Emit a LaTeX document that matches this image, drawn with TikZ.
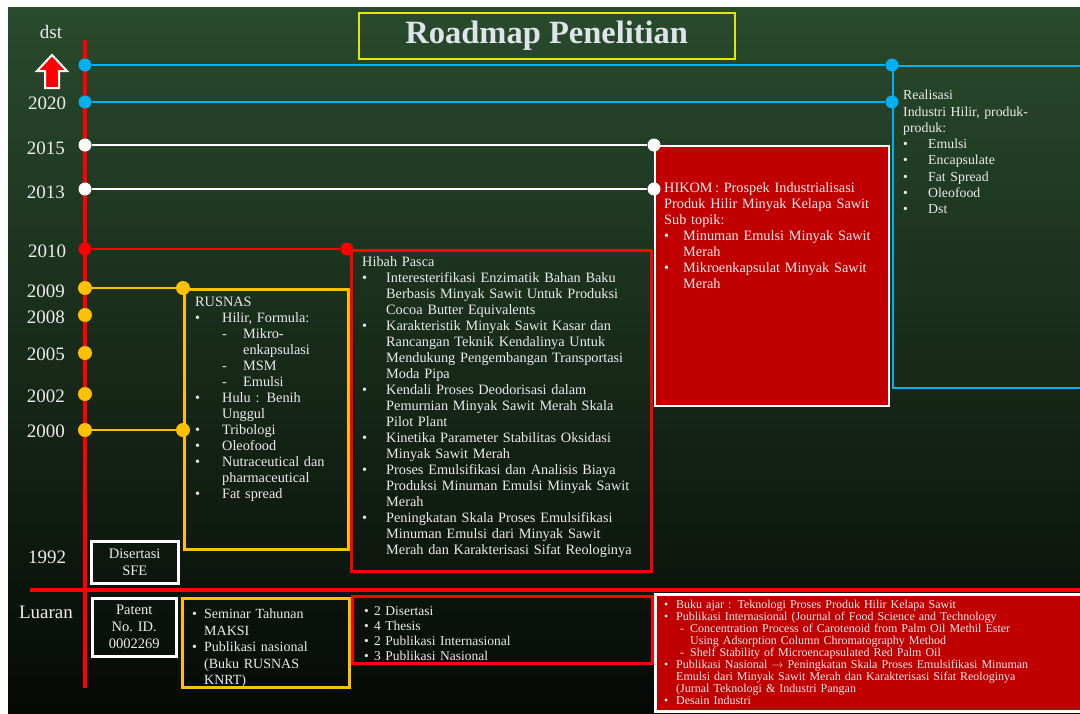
\documentclass[tikz,border=0pt]{standalone}
\usepackage{fontspec}
\setmainfont{Liberation Serif}
\usepackage{tikz}
\usetikzlibrary{positioning}
\definecolor{bgtop}{RGB}{41,75,45}
\definecolor{bgmid}{RGB}{30,56,33}
\definecolor{bgbot}{RGB}{6,9,6}
\definecolor{axisred}{RGB}{255,0,0}
\definecolor{boxred}{RGB}{192,0,0}
\definecolor{gold}{RGB}{255,192,0}
\definecolor{sky}{RGB}{0,176,240}
\definecolor{titleyel}{RGB}{230,230,0}
\definecolor{txt}{RGB}{236,236,236}
\definecolor{titletxt}{RGB}{222,228,234}
% bullet and dash lines with hanging indent
\newcommand{\bul}[2]{\par\hangindent=#1\hangafter=1\noindent\makebox[#1][l]{\textbullet}#2\par}
\newcommand{\dsh}[3]{\par\hangindent=#2\hangafter=1\noindent\hspace*{#1}\makebox[\dimexpr#2-#1\relax][l]{-}#3\par}

\begin{document}
\begin{tikzpicture}
[x=1pt, y=-1pt,
yeardot/.style={circle, inner sep=0pt, minimum size=13pt},
bluedot/.style={yeardot, fill=sky},
whitedot/.style={yeardot, fill=white},
reddot/.style={yeardot, fill=axisred},
golddot/.style={yeardot, fill=gold, minimum size=14pt},
link/.style={line width=2pt},
panel/.style={rectangle, line width=2.5pt, inner sep=0pt, anchor=north west},
boxtext/.style={anchor=north west, inner sep=0pt, align=left, text=txt, font=\fontsize{14.3}{16}\selectfont},
centertext/.style={align=center, text=txt, font=\fontsize{14.5}{17}\selectfont},
year/.style={text=txt, font=\fontsize{19}{20}\selectfont},
]
    \useasboundingbox (0,0) rectangle (1080,713);
    \fill[white] (0,0) rectangle (1080,713);
    \fill[top color=bgtop, middle color=bgmid, bottom color=bgbot] (8,7) rectangle (1080,713);

    \node[draw=titleyel, line width=1.5pt, anchor=north west, minimum width=376pt, minimum height=46pt, text=titletxt, font=\fontsize{32.5}{34}\selectfont\bfseries] (title) at (358,12) {Roadmap Penelitian};

    % time axis and output line
    \draw[axisred, line width=4pt] (85,40) -- (85,688);
    \draw[axisred, line width=4pt] (30,590) -- (1080,590);

    % years
    \node[year] (ydst) at (51,32) {dst};
    \draw[white, line width=2pt, fill=axisred] (52,55) -- (67,71) -- (59,71) -- (59,88) -- (45,88) -- (45,71) -- (37,71) -- cycle;
    \node[year] (y2020) at (47,103) {2020};
    \node[year] (y2015) at (46,148) {2015};
    \node[year] (y2013) at (46,192) {2013};
    \node[year] (y2010) at (47,251) {2010};
    \node[year] (y2009) at (46,291) {2009};
    \node[year] (y2008) at (46,317) {2008};
    \node[year] (y2005) at (46,354) {2005};
    \node[year] (y2002) at (46,396) {2002};
    \node[year] (y2000) at (46,431) {2000};
    \node[year] (y1992) at (47,557) {1992};
    \node[year] (yluaran) at (46,612) {Luaran};

    \node[bluedot] (ddst) at (85,65) {};
    \node[bluedot] (d2020) at (85,102) {};
    \node[whitedot] (d2015) at (85,145) {};
    \node[whitedot] (d2013) at (85,189) {};
    \node[reddot] (d2010) at (85,249) {};
    \node[golddot] (d2009) at (85,288) {};
    \node[golddot] (d2008) at (85,315) {};
    \node[golddot] (d2005) at (85,353) {};
    \node[golddot] (d2002) at (85,394) {};
    \node[golddot] (d2000) at (85,430) {};

    % research boxes
    \node[panel, draw=sky, line width=2pt, minimum width=200pt, minimum height=322pt] (real) at (892,65) {};
    \node[panel, draw=white, line width=2pt, fill=boxred, minimum width=234pt, minimum height=260pt] (hikom) at (654,145) {};
    \node[panel, draw=axisred, minimum width=300pt, minimum height=321pt] (hibah) at (350,249) {};
    \node[panel, draw=gold, minimum width=164pt, minimum height=260pt] (rusnas) at (183,288) {};
    \node[panel, draw=white, minimum width=87pt, minimum height=42pt, centertext] (sfe) at (90,540) {Disertasi\\SFE};

    \node[bluedot] (rtop) at (real.north west) {};
    \node[bluedot] (r2020) at (real.west |- d2020) {};
    \node[whitedot] (h2015) at (hikom.north west) {};
    \node[whitedot] (h2013) at (hikom.west |- d2013) {};
    \node[reddot] (p2010) at ([xshift=-3pt]hibah.north west) {};
    \node[golddot] (r2009) at (rusnas.north west) {};
    \node[golddot] (r2000) at (rusnas.west |- d2000) {};

    \draw[link, sky] (ddst) -- (rtop);
    \draw[link, sky] (d2020) -- (r2020);
    \draw[link, white] (d2015) -- (h2015);
    \draw[link, white] (d2013) -- (h2013);
    \draw[link, axisred] (d2010) -- (p2010);
    \draw[link, gold] (d2009) -- (r2009);
    \draw[link, gold] (d2000) -- (r2000);

    \node[boxtext, text width=172pt, font=\fontsize{13.8}{16.3}\selectfont] (realtext) at (903,90) {Realisasi\\Industri Hilir, produk-\\produk:
      \bul{25pt}{Emulsi}
      \bul{25pt}{Encapsulate}
      \bul{25pt}{Fat Spread}
      \bul{25pt}{Oleofood}
      \bul{25pt}{Dst}};
    \node[boxtext, text width=222pt] (hikomtext) at (664,182) {HIKOM\,: Prospek Industrialisasi\\Produk Hilir Minyak Kelapa Sawit\\Sub topik:
      \bul{19pt}{Minuman Emulsi Minyak Sawit\newline Merah}
      \bul{19pt}{Mikroenkapsulat Minyak Sawit\newline Merah}};
    \node[boxtext, text width=284pt] (hibahtext) at (362,256) {Hibah Pasca
      \bul{24pt}{Interesterifikasi Enzimatik Bahan Baku\newline Berbasis Minyak Sawit Untuk Produksi\newline Cocoa Butter Equivalents}
      \bul{24pt}{Karakteristik Minyak Sawit Kasar dan\newline Rancangan Teknik Kendalinya Untuk\newline Mendukung Pengembangan Transportasi\newline Moda Pipa}
      \bul{24pt}{Kendali Proses Deodorisasi dalam\newline Pemurnian Minyak Sawit Merah Skala\newline Pilot Plant}
      \bul{24pt}{Kinetika Parameter Stabilitas Oksidasi\newline Minyak Sawit Merah}
      \bul{24pt}{Proses Emulsifikasi dan Analisis Biaya\newline Produksi Minuman Emulsi Minyak Sawit\newline Merah}
      \bul{24pt}{Peningkatan Skala Proses Emulsifikasi\newline Minuman Emulsi dari Minyak Sawit\newline Merah dan Karakterisasi Sifat Reologinya}};
    \node[boxtext, text width=150pt] (rusnastext) at (195,297) {RUSNAS
      \bul{27pt}{Hilir, Formula:}
      \dsh{27pt}{48pt}{Mikro-\newline enkapsulasi}
      \dsh{27pt}{48pt}{MSM}
      \dsh{27pt}{48pt}{Emulsi}
      \bul{27pt}{Hulu : Benih\newline Unggul}
      \bul{27pt}{Tribologi}
      \bul{27pt}{Oleofood}
      \bul{27pt}{Nutraceutical dan\newline pharmaceutical}
      \bul{27pt}{Fat spread}};

    % outputs
    \node[panel, draw=white, minimum width=84pt, minimum height=58pt, centertext] (patent) at (91,597) {Patent\\No. ID.\\0002269};
    \node[panel, draw=gold, minimum width=167pt, minimum height=89pt] (seminar) at (181,597) {};
    \node[panel, draw=axisred, line width=3pt, minimum width=300pt, minimum height=67pt] (luaranpasca) at (351,595) {};
    \node[panel, draw=white, fill=boxred, minimum width=440pt, minimum height=117pt] (luaranhikom) at (654,593) {};

    \node[boxtext, text width=150pt, font=\fontsize{14}{16.5}\selectfont] (seminartext) at (192,602) {\bul{12pt}{Seminar Tahunan\newline MAKSI}
      \bul{12pt}{Publikasi nasional\newline (Buku RUSNAS\newline KNRT)}};
    \node[boxtext, text width=280pt, font=\fontsize{13.5}{15}\selectfont] (pascatext) at (364,600) {\bul{10pt}{2 Disertasi}
      \bul{10pt}{4 Thesis}
      \bul{10pt}{2 Publikasi Internasional}
      \bul{10pt}{3 Publikasi Nasional}};
    \node[boxtext, text width=410pt, font=\fontsize{12}{12}\selectfont] (hikomout) at (664,596) {\bul{12pt}{Buku ajar : Teknologi Proses Produk Hilir  Kelapa Sawit}
      \bul{12pt}{Publikasi Internasional (Journal of Food Science and Technology}
      \dsh{16pt}{26pt}{Concentration Process of Carotenoid from Palm Oil Methil Ester\newline Using Adsorption Column Chromatography Method}
      \dsh{16pt}{26pt}{Shelf Stability  of Microencapsulated Red Palm Oil}
      \bul{12pt}{Publikasi Nasional $\rightarrow$ Peningkatan Skala Proses Emulsifikasi  Minuman\newline Emulsi dari Minyak Sawit Merah dan Karakterisasi Sifat Reologinya\newline (Jurnal Teknologi \& Industri Pangan}
      \bul{12pt}{Desain Industri}};
\end{tikzpicture}
\end{document}
